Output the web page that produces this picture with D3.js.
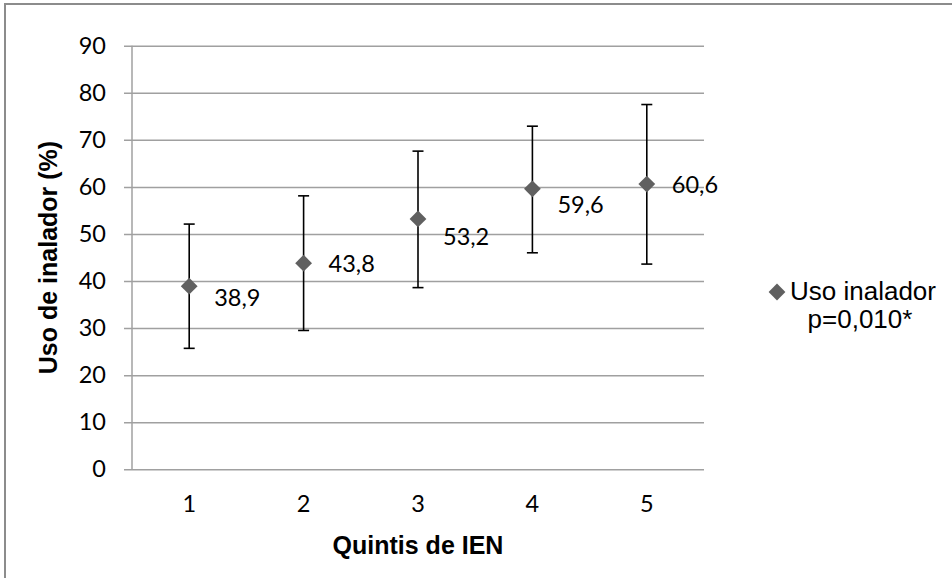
<!DOCTYPE html>
<html>
<head>
<meta charset="utf-8">
<script src="https://cdnjs.cloudflare.com/ajax/libs/d3/7.8.5/d3.min.js"></script>
<style>
	html, body { margin: 0; padding: 0; background: #fff; }
	#outer { width: 952px; height: 578px; }
</style>
</head>
<body>
<div id="outer"></div>
<script>
////////// Data //////////
const quintiles = ['1', '2', '3', '4', '5'];
const usoValues = [38.9, 43.8, 53.2, 59.6, 60.6];
const lowerCI = [25.7, 29.5, 38.6, 46.0, 43.6];
const upperCI = [52.1, 58.1, 67.6, 72.9, 77.5];
const yTicks = [0, 10, 20, 30, 40, 50, 60, 70, 80, 90];
const seriesName = ['Uso inalador', 'p=0,010*'];

// data labels were dragged by hand in the original, keep the nudges apart
const labelNudgeY = [12, 1, 18, 16, 1];


////////// Layout //////////
const width = 952;
const height = 578;
const plot = { left: 132, right: 704, top: 45.7, bottom: 469.3 };
const gridColor = '#a0a0a0';
const markerColor = '#606060';
const tickFont = '23.5px Lato, "Open Sans", sans-serif';
const titleFont = 'bold 25px "Liberation Sans", Arial, sans-serif';
const legendFont = '26px "Liberation Sans", Arial, sans-serif';


const svg = d3.select('#outer').append('svg')
	.attr('width', width)
	.attr('height', height);

// chart border (right and bottom run off the picture)
svg.append('rect')
	.attr('x', 5).attr('y', 4)
	.attr('width', width + 10).attr('height', height + 10)
	.attr('fill', 'white')
	.attr('stroke', '#8c8c8c')
	.attr('stroke-width', 2);

const x = d3.scaleBand()
	.domain(quintiles)
	.range([plot.left, plot.right]);

const y = d3.scaleLinear()
	.domain([0, 90])
	.range([plot.bottom, plot.top]);

// ********** GRID + Y AXIS ********** //
const yAxis = svg.append('g')
	.attr('transform', `translate(${plot.left}, 0)`)
	.call(d3.axisLeft(y).tickValues(yTicks).tickSize(-(plot.right - plot.left)).tickSizeOuter(0).tickPadding(26));
yAxis.select('.domain').remove();
yAxis.selectAll('.tick line')
	.attr('x1', -8)
	.attr('stroke', gridColor)
	.attr('stroke-width', 1.5);
yAxis.selectAll('.tick text')
	.style('font', tickFont)
	.attr('fill', '#000');

// vertical axis line
svg.append('line')
	.attr('x1', plot.left).attr('x2', plot.left)
	.attr('y1', plot.top).attr('y2', plot.bottom)
	.attr('stroke', gridColor)
	.attr('stroke-width', 1.5);

// ********** X AXIS ********** //
const xAxis = svg.append('g')
	.attr('transform', `translate(0, ${plot.bottom})`)
	.call(d3.axisBottom(x).tickSize(0).tickPadding(26));
xAxis.select('.domain').remove();
xAxis.selectAll('.tick text')
	.style('font', tickFont)
	.attr('fill', '#000');

// ********** ERROR BARS ********** //
const capHalf = 5.5;
const bars = svg.append('g').attr('class', 'errorBars')
	.attr('stroke', '#000')
	.attr('stroke-width', 1.6);
quintiles.forEach((q, i) => {
	const cx = x(q) + x.bandwidth() / 2;
	bars.append('line')
		.attr('x1', cx).attr('x2', cx)
		.attr('y1', y(lowerCI[i])).attr('y2', y(upperCI[i]));
	[lowerCI[i], upperCI[i]].forEach(v => {
		bars.append('line')
			.attr('x1', cx - capHalf).attr('x2', cx + capHalf)
			.attr('y1', y(v)).attr('y2', y(v));
	});
});

// ********** MARKERS + LABELS ********** //
const diamond = d3.symbol().type(d3.symbolDiamond2).size(180);
svg.append('g').attr('class', 'markers')
	.selectAll('path')
	.data(usoValues)
	.join('path')
	.attr('d', diamond)
	.attr('fill', markerColor)
	.attr('transform', (d, i) => `translate(${x(quintiles[i]) + x.bandwidth() / 2}, ${y(d)})`);

svg.append('g').attr('class', 'dataLabels')
	.selectAll('text')
	.data(usoValues)
	.join('text')
	.attr('x', (d, i) => x(quintiles[i]) + x.bandwidth() / 2 + 25)
	.attr('y', (d, i) => y(d) + labelNudgeY[i])
	.attr('dy', '0.35em')
	.style('font', tickFont)
	.attr('fill', '#000')
	.text(d => d3.format('.1f')(d).replace('.', ','));

// ********** TITLES ********** //
svg.append('text')
	.attr('x', (plot.left + plot.right) / 2)
	.attr('y', 554)
	.attr('text-anchor', 'middle')
	.style('font', titleFont)
	.text('Quintis de IEN');

svg.append('text')
	.attr('transform', `translate(57, ${(plot.top + plot.bottom) / 2}) rotate(-90)`)
	.attr('text-anchor', 'middle')
	.style('font', titleFont)
	.text('Uso de inalador (%)');

// ********** LEGEND ********** //
const legend = svg.append('g').attr('class', 'legend');
legend.append('path')
	.attr('d', diamond)
	.attr('fill', markerColor)
	.attr('transform', 'translate(777, 292)');
legend.append('text')
	.attr('x', 790).attr('y', 300)
	.style('font', legendFont)
	.text(seriesName[0]);
legend.append('text')
	.attr('x', 860).attr('y', 328)
	.attr('text-anchor', 'middle')
	.style('font', legendFont)
	.text(seriesName[1]);
</script>
</body>
</html>
